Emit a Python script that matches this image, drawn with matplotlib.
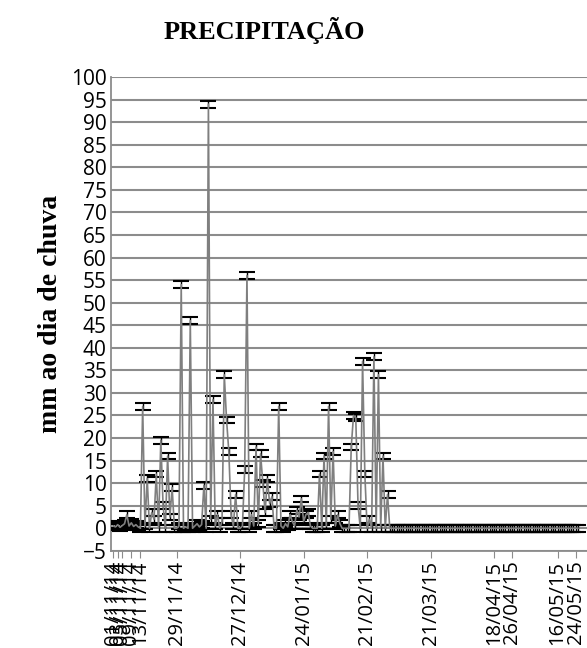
import numpy as np
import matplotlib
matplotlib.use("Agg")
import matplotlib.pyplot as plt
import matplotlib.dates as mdates
from datetime import datetime, timedelta

# daily rain (mm), from 01/11/14
rain_nov_mar = [
    0.5, 0.3, 0.8, 0.2, 0.6, 1.0, 3.0, 0.5, 1.2, 0.4,
    0.8, 0.3, 0.0, 27.0, 0.5, 11.0, 0.0, 3.5, 2.0, 12.0,
    0.0, 19.5, 5.0, 0.0, 16.0, 2.5, 9.0, 0.0, 0.0, 0.5,
    54.0, 0.0, 0.3, 0.0, 46.0, 0.0, 0.5, 1.0, 0.3, 0.8,
    9.5, 0.0, 94.0, 2.0, 28.5, 0.5, 3.0, 0.0, 1.5, 34.0,
    24.0, 17.0, 3.0, 0.5, 7.5, 0.0, 0.0, 0.5, 13.0, 56.0,
    0.0, 3.0, 0.5, 18.0, 1.0, 16.5, 10.0, 3.5, 11.0, 5.5,
    7.0, 0.0, 0.0, 27.0, 0.5, 0.0, 1.0, 0.3, 3.0, 1.5,
    0.5, 4.0, 2.5, 6.5, 1.5, 3.0, 3.5, 0.5, 0.0, 0.0,
    0.0, 12.0, 0.0, 16.0, 0.5, 27.0, 2.0, 17.0, 0.5, 3.0,
    1.0, 0.0, 0.0, 0.0, 0.0, 18.0, 25.0, 24.5, 5.0, 0.0,
    37.0, 12.0, 0.0, 2.0, 0.0, 38.0, 0.0, 34.0, 0.0, 16.0,
    0.0, 7.5, 0.0,
]
# no rain afterwards, up to 25/05/15
rain_mar_may = [0.0] * 83
rain = rain_nov_mar + rain_mar_may
err = 0.75

start = datetime(2014, 11, 1)
dates = [start + timedelta(days=i) for i in range(len(rain))]

tick_labels = ['01/11/14', '03/11/14', '05/11/14', '09/11/14', '13/11/14',
               '29/11/14', '27/12/14', '24/01/15', '21/02/15', '21/03/15',
               '18/04/15', '26/04/15', '16/05/15', '24/05/15']
tick_dates = [datetime.strptime(t, '%d/%m/%y') for t in tick_labels]

fig = plt.figure(figsize=(5.87, 6.48), dpi=100)
ax = fig.add_axes([0.189, 0.150, 0.811, 0.731])

# error bars first, grey line drawn over them
ax.errorbar(dates, rain, yerr=err, fmt='none', ecolor='black',
            elinewidth=1, capsize=6, capthick=1.5, zorder=3)
ax.plot(dates, rain, color='#7f7f7f', lw=1.2, zorder=4)

ax.set_ylim(-5, 100)
ax.set_yticks(range(-5, 101, 5))
ax.set_xlim(start - timedelta(days=1), start + timedelta(days=209))
ax.set_xticks(tick_dates)
ax.xaxis.set_major_formatter(mdates.DateFormatter('%d/%m/%y'))

ax.grid(axis='y', color='#8c8c8c', lw=1.5)
ax.set_axisbelow(True)
for s in ['top', 'right']:
    ax.spines[s].set_visible(False)
for s in ['left', 'bottom']:
    ax.spines[s].set_color('#8c8c8c')
    ax.spines[s].set_linewidth(1.3)

ax.tick_params(axis='y', length=0, pad=3, labelsize=15)
ax.tick_params(axis='x', length=5, color='#8c8c8c', pad=2, labelsize=14.5,
               labelrotation=90)
for lab in ax.get_xticklabels() + ax.get_yticklabels():
    lab.set_fontfamily('Open Sans')

ax.set_ylabel('mm ao dia de chuva', fontfamily='Liberation Serif',
              fontweight='bold', fontsize=20, labelpad=6)
fig.text(0.45, 0.953, 'PRECIPITAÇÃO', ha='center', va='center',
         fontfamily='Liberation Serif', fontweight='bold', fontsize=19)

fig.savefig('out.png', dpi=100)
